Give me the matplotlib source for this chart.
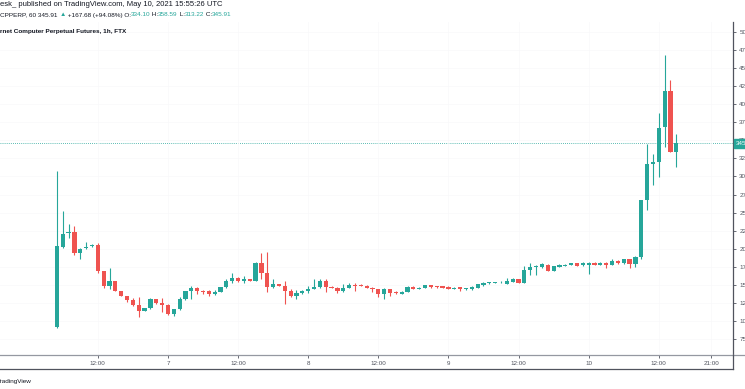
import numpy as np
import matplotlib
matplotlib.use('Agg')
import matplotlib.pyplot as plt
from matplotlib.lines import Line2D

# hourly candles, ICP-PERP on FTX, first candle May 6 05:00 UTC
start_hour = 5
opens = [92, 202.8, 221.3, 223.6, 194.5, 200.6, 203.3, 205.1, 169.1, 148.8,
         155.3, 141.9, 134.9, 129, 122.1, 114.2, 117.5, 130, 124.4, 122.1,
         109.2, 116.5, 130.4, 141.5, 146, 141.5, 141.9, 137.3, 140.5, 146.6,
         155.3, 160, 155.8, 158.1, 155.8, 179.8, 166, 147.4, 151, 148.8,
         141.9, 134.5, 138.3, 141.5, 144.6, 147.4, 155.3, 147.4, 146, 141.5,
         146, 150.2, 149.8, 148.5, 146, 143.8, 136.9, 143.8, 140.5, 137.3,
         140.5, 147.4, 144.6, 146, 149.3, 148.4, 148.4, 147.4, 144.6, 146.6,
         143.8, 143.8, 146, 149.3, 152, 152.5, 153.5, 151.7, 153.9, 157.7,
         153, 170.5, 175, 174.3, 177.5, 169.6, 175, 176.5, 177.5, 179.8,
         177.5, 177.5, 180.6, 177.5, 180.6, 177.5, 183, 180, 185.4, 178.8,
         189, 267.4, 317.3, 320, 368, 418.7, 334.10]
highs = [307.6, 252.6, 234.2, 231.9, 200.6, 209.7, 206, 208.3, 169.5, 173.7,
         155.5, 142, 135, 131.4, 132.7, 118, 132.2, 131, 131.4, 123,
         117, 133.6, 142, 148.4, 146.5, 143, 142.5, 142.8, 147, 157.7,
         166, 161, 162.2, 158.5, 182, 194.5, 195.9, 157.7, 151.5, 155.3,
         144, 142.8, 143, 148.4, 157.7, 157.7, 157.7, 149, 147, 151.2,
         152, 153, 150.5, 150, 146.5, 144, 145, 144, 141, 141,
         148, 148, 146.6, 150, 150, 149, 148.8, 147.8, 146.5, 147,
         145.5, 148.4, 151, 153.5, 154, 154, 155, 160, 160, 158,
         175.8, 180, 177, 180, 178.5, 176.5, 178.5, 178.5, 180.5, 180.5,
         182, 181, 181, 181, 181, 186, 184, 186, 186, 190,
         268, 345, 330.7, 388.3, 468.2, 433.6, 358.59]
lows = [90, 201, 215.2, 191.3, 185.8, 200, 203, 166, 145.2, 144.2,
        141, 134, 126.7, 121, 105.9, 113.5, 117, 123, 112.7, 108,
        107, 115, 129, 130, 136.9, 137.3, 134.5, 135.5, 140, 145,
        153, 154, 153, 155, 155, 158.5, 140.5, 145, 148, 123,
        133, 130, 137, 139, 144, 145, 140.5, 145, 139, 140,
        145, 141.9, 148, 145, 140.5, 133.6, 130.4, 134, 137.5, 137,
        140, 144, 144, 145.5, 146, 146, 145.5, 144, 144, 141.9,
        143, 143.5, 145.5, 149, 151.5, 152, 153, 151.5, 153.5, 152.5,
        152, 164, 163.6, 174, 169, 169, 174.5, 176, 177, 176,
        175.5, 165, 177, 177, 173, 177, 179.5, 179.5, 172.9, 175,
        186, 253.6, 288.2, 299.7, 340.4, 334, 313.22]
closes = [203.8, 220.4, 223.6, 194.5, 199.6, 202.8, 205.1, 169.1, 148.8, 155.3,
          141.9, 134.9, 129, 122.1, 114.2, 117.5, 130, 124.4, 122.1, 109.2,
          116.5, 130.4, 141.5, 146, 141.5, 139.7, 137.3, 140.5, 146.6, 155.3,
          160, 155.8, 158.1, 155.8, 179.8, 166, 147.4, 151, 148.8, 141.9,
          134.5, 138.3, 141.5, 144.6, 147.4, 155.3, 147.4, 146, 141.5, 146,
          150.2, 148.8, 148.5, 146, 143.8, 136.9, 143.8, 138.3, 138.3, 140.5,
          147.4, 144.6, 146, 149.3, 146.6, 146.6, 146, 144.6, 146, 143.8,
          145, 146.6, 150.7, 152.1, 153.5, 153.5, 154.5, 155.3, 157.7, 153,
          170.5, 175, 176.5, 178.4, 169.6, 176, 177.9, 177.9, 179.8, 176.5,
          179.8, 180.6, 177.5, 180.6, 177.5, 183, 180, 185.4, 178.8, 189,
          267.4, 317.3, 320, 366.7, 418.7, 334.10, 345.91]

price_ticks = list(range(75, 501, 25))
time_ticks = [12, 24, 36, 48, 60, 72, 84, 96, 108, 117]
time_labels = ['12:00', '7', '12:00', '8', '12:00', '9', '12:00', '10', '12:00', '21:00']
last_price = 345.91

UP = '#26a69a'
DOWN = '#ef5350'
INK = '#131722'
W, H = 745, 389


# pixel -> figure fraction
def fx(x):
    return x / W


def fy(y):
    return 1 - y / H


plt.rcParams['font.family'] = ['Liberation Sans', 'DejaVu Sans']
fig = plt.figure(figsize=(W / 100, H / 100), dpi=100)
fig.patch.set_facecolor('white')

ax = fig.add_axes([0, fy(355), fx(733), fy(22) - fy(355)])

o = np.array(opens)
h = np.array(highs)
l = np.array(lows)
c = np.array(closes)
t = start_hour + np.arange(len(o))
colors = [UP if cc >= oo else DOWN for oo, cc in zip(o, c)]

# candles
ax.vlines(t, l, h, colors=colors, lw=0.8, zorder=2)
body = np.maximum(np.abs(c - o), 0.8)
ax.bar(t, body, bottom=np.minimum(o, c), width=0.72, color=colors,
       linewidth=0, zorder=3)

ax.set_xlim(-4.74, 120.7)
ax.set_ylim(52.9, 513.8)

# last price line + label
ax.axhline(last_price, color=UP, ls=(0, (1, 1.5)), lw=0.6, zorder=1)
ax.annotate(f'{last_price:.2f}', xy=(1, last_price), xycoords=ax.get_yaxis_transform(),
            xytext=(2, 0), textcoords='offset points', va='center', ha='left',
            fontsize=4.5, color='white', annotation_clip=False, zorder=5,
            bbox=dict(boxstyle='square,pad=0.35', fc=UP, ec=UP))

# axes
ax.yaxis.tick_right()
ax.set_yticks(price_ticks)
ax.set_yticklabels([str(p) for p in price_ticks])
ax.set_xticks(time_ticks)
ax.set_xticklabels(time_labels)
ax.tick_params(axis='both', labelsize=4.5, colors='#50535e', length=2.5, width=0.6, pad=2)
ax.grid(True, color='#f8f8fa', lw=0.5, zorder=0)
for s in ['top', 'left']:
    ax.spines[s].set_visible(False)
ax.spines['right'].set_color('#50535e')
ax.spines['right'].set_linewidth(0.9)
ax.spines['bottom'].set_color('#9598a1')
ax.spines['bottom'].set_linewidth(0.9)

# time-scale strip borders
fig.add_artist(Line2D([0, fx(733)], [fy(369), fy(369)], color='#50535e', lw=0.9))
fig.add_artist(Line2D([fx(733), 1], [fy(355), fy(355)], color='#9598a1', lw=0.9))
fig.add_artist(Line2D([fx(733), fx(733)], [fy(355), fy(369)], color='#50535e', lw=0.9))

# header
fig.text(fx(0), fy(5), 'esk_ published on TradingView.com, May 10, 2021 15:55:26 UTC',
         fontsize=5.5, color=INK, va='center')
parts = [('CPPERP, 60 345.91 ', INK), ('\u25b2', UP), (' +167.68 (+94.08%) O:', INK),
         ('334.10', UP), (' H:', INK), ('358.59', UP), (' L:', INK),
         ('313.22', UP), (' C:', INK), ('345.91', UP)]
prev = fig.text(fx(0), fy(15), parts[0][0], fontsize=4.6, color=parts[0][1], va='center')
for txt, col in parts[1:]:
    # chain each piece to the right of the previous one
    prev = ax.annotate(txt, xy=(1, 0.5), xycoords=prev, va='center', ha='left',
                       fontsize=4.6, color=col, annotation_clip=False)
fig.text(fx(0), fy(32), 'rnet Computer Perpetual Futures, 1h, FTX',
         fontsize=4.6, color=INK, va='center', fontweight='bold')

# footer
fig.text(fx(-3), fy(381), 'TradingView', fontsize=4.6, color=INK, va='center')

fig.savefig('out.png', dpi=100)
